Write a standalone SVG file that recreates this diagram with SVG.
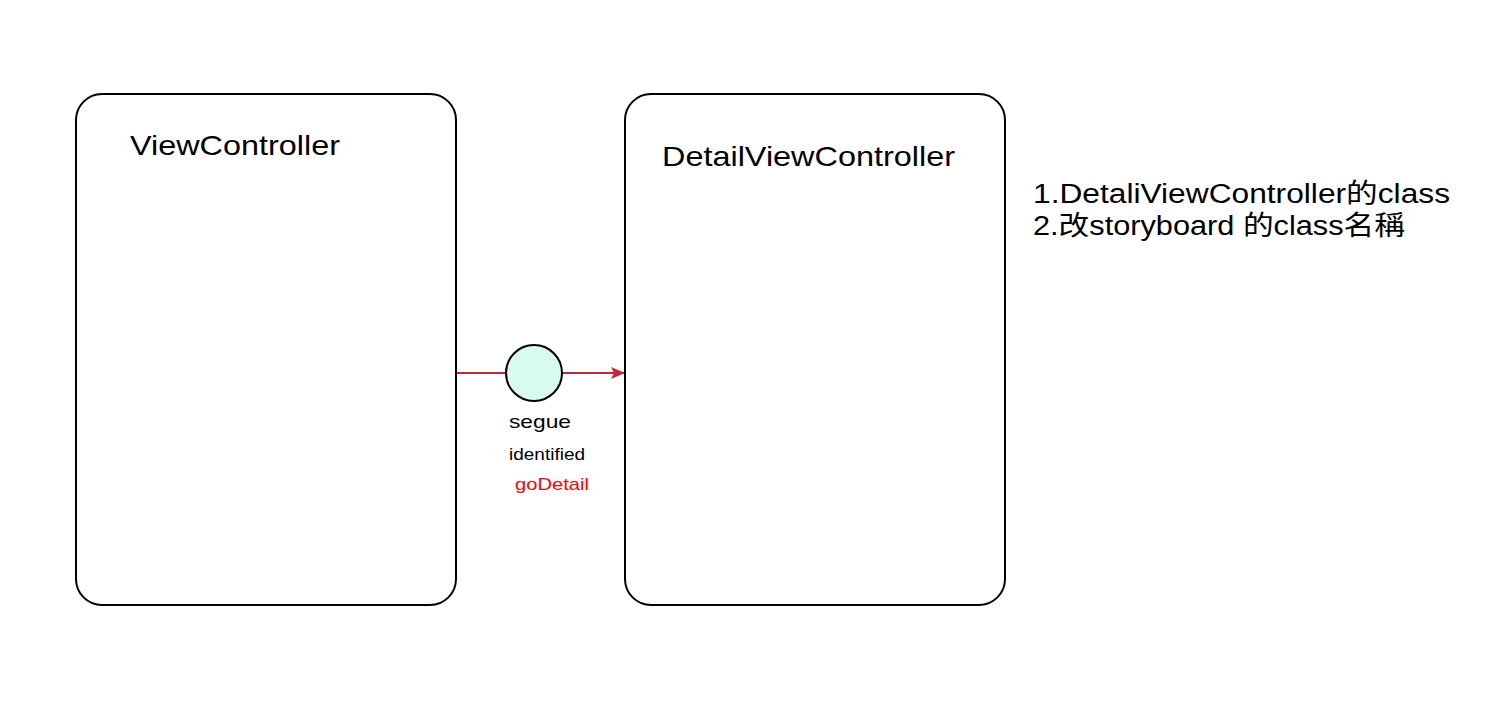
<svg xmlns="http://www.w3.org/2000/svg" width="1491" height="722" viewBox="0 0 1491 722">
<style>
.box{fill:#fff;stroke:#000;stroke-width:2}
.t{font-family:"Liberation Sans","Noto Sans CJK SC",sans-serif;fill:#000}
.conn{stroke:#c0283a;stroke-width:2;fill:none}
</style>
<defs>
<marker id="arr" markerWidth="14" markerHeight="12" refX="13" refY="6" orient="auto" markerUnits="userSpaceOnUse">
<path d="M0,0 L14,6 L0,12 L3,6 Z" fill="#c0283a"/>
</marker>
</defs>
<rect width="1491" height="722" fill="#fff"/>
<g id="connectors">
<line class="conn" x1="457" y1="373" x2="506" y2="373"/>
<line class="conn" x1="562" y1="373" x2="624" y2="373" marker-end="url(#arr)"/>
</g>
<g id="viewcontroller">
<rect class="box" x="76" y="94" width="380" height="511" rx="26"/>
<text class="t" x="130" y="155" font-size="28" textLength="210" lengthAdjust="spacingAndGlyphs">ViewController</text>
</g>
<g id="detailviewcontroller">
<rect class="box" x="625" y="94" width="380" height="511" rx="26"/>
<text class="t" x="662" y="166" font-size="28" textLength="293" lengthAdjust="spacingAndGlyphs">DetailViewController</text>
</g>
<g id="segue">
<circle cx="534" cy="373" r="28" fill="#d7fbf0" stroke="#000" stroke-width="2"/>
<text class="t" x="509" y="428" font-size="19" textLength="62" lengthAdjust="spacingAndGlyphs">segue</text>
<text class="t" x="509" y="460" font-size="16" textLength="76" lengthAdjust="spacingAndGlyphs">identified</text>
<text class="t" x="515" y="490" font-size="17" textLength="74" lengthAdjust="spacingAndGlyphs" style="fill:#ff0000">goDetail</text>
</g>
<g id="notes">
<text class="t" x="1033" y="203" font-size="27" textLength="417" lengthAdjust="spacingAndGlyphs">1.DetaliViewController的class</text>
<text class="t" x="1033" y="235" font-size="27" textLength="372" lengthAdjust="spacingAndGlyphs">2.改storyboard 的class名稱</text>
</g>
</svg>
